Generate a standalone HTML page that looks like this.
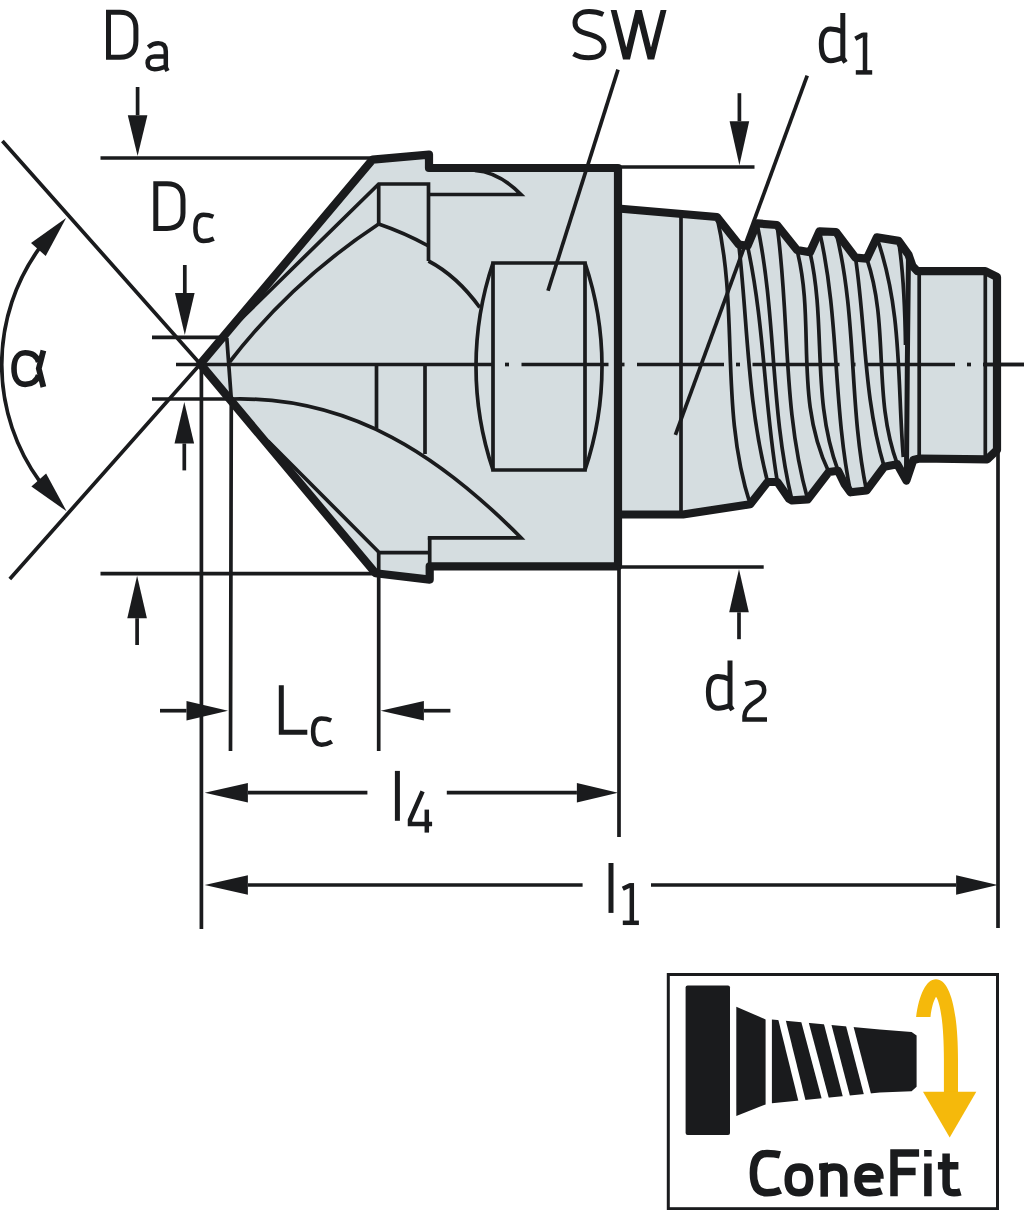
<!DOCTYPE html>
<html><head><meta charset="utf-8"><style>
html,body{margin:0;padding:0;background:#fff;width:1024px;height:1210px;overflow:hidden;font-family:"Liberation Sans",sans-serif}
svg{display:block}
</style></head><body>
<svg width="1024" height="1210" viewBox="0 0 1024 1210">
<polygon points="200.3,364 372.5,159.7 429,154.6 429,168 618,168 618,566.3 429.7,566.3 429.7,579.6 375.5,573.2" fill="#d5dde0"/>
<polygon points="618,208.5 717,217 738.8,244.5 747.5,245.8 757,223.4 777,225 797,250 810,252.3 819.5,231.3 836,232 855.5,257.7 866.8,258.7 876.8,237.4 898.6,240.9 908.5,254.7 912.5,266 917.4,271.2 985.3,271.2 997,277 997,450 987.3,459.3 919.5,458.5 913.3,460 906.4,480.5 897.3,464.2 884.2,466.8 866.5,490.5 850.6,492.3 844.4,483.8 838.1,470.8 828.8,472 807.7,499.4 792,500.4 788.9,498.6 777.4,482 767.6,482 750.2,504.3 683,514.5 618,514.5" fill="#d5dde0"/>
<path d="M240,320 L378.7,184 H428.5 V261" fill="none" stroke="#1a1b1d" stroke-width="3.7" />
<path d="M378.7,184 V224" fill="none" stroke="#1a1b1d" stroke-width="3.7" />
<path d="M378.7,224 Q405,233 428.5,246" fill="none" stroke="#1a1b1d" stroke-width="3.7" />
<path d="M229.6,362 Q292,281 378.7,224" fill="none" stroke="#1a1b1d" stroke-width="3.7" />
<path d="M428.5,261 Q457,276 479.8,307.5" fill="none" stroke="#1a1b1d" stroke-width="3.7" />
<path d="M428.5,194.5 H521 Q499,172 474.8,170.5" fill="none" stroke="#1a1b1d" stroke-width="3.7" />
<path d="M268,441 L379.4,552.7 H429.7" fill="none" stroke="#1a1b1d" stroke-width="3.7" />
<path d="M429.7,537.4 V566" fill="none" stroke="#1a1b1d" stroke-width="3.7" />
<path d="M232,399 C352,396 442,457.8 521,537.8 H427.8" fill="none" stroke="#1a1b1d" stroke-width="3.7" />
<path d="M376.5,364 V428.5" fill="none" stroke="#1a1b1d" stroke-width="3.7" />
<path d="M425,364 V454" fill="none" stroke="#1a1b1d" stroke-width="3.7" />
<path d="M226.8,338 L231.3,399 L230.5,751" fill="none" stroke="#1a1b1d" stroke-width="3.7" />
<path d="M493,263 H585 V470 H493 Z" fill="none" stroke="#1a1b1d" stroke-width="3.7" />
<path d="M493,263 A323.6,323.6 0 0 0 493,470" fill="none" stroke="#1a1b1d" stroke-width="3.7" />
<path d="M585,263 A323.6,323.6 0 0 1 585,470" fill="none" stroke="#1a1b1d" stroke-width="3.7" />
<path d="M681,212 V514.5" fill="none" stroke="#1a1b1d" stroke-width="3.7" />
<path d="M919.2,271 V459" fill="none" stroke="#1a1b1d" stroke-width="3.7" />
<path d="M985.3,271 V459" fill="none" stroke="#1a1b1d" stroke-width="3.7" />
<path d="M717,217 C739.2,312.8 719.3,408.5 750.2,504.3" fill="none" stroke="#1a1b1d" stroke-width="3.7" />
<path d="M738.8,244.5 C747.8,323.7 747.2,402.8 767.6,482" fill="none" stroke="#1a1b1d" stroke-width="3.7" />
<path d="M747.5,245.8 C764.6,324.5 764,403.3 777.4,482" fill="none" stroke="#1a1b1d" stroke-width="3.7" />
<path d="M757,223.4 C776.6,315.7 769.8,408.1 792,500.4" fill="none" stroke="#1a1b1d" stroke-width="3.7" />
<path d="M777,225 C789.9,316.5 782,407.9 807.7,499.4" fill="none" stroke="#1a1b1d" stroke-width="3.7" />
<path d="M797,250 C815.8,324 793.5,398 828.8,472" fill="none" stroke="#1a1b1d" stroke-width="3.7" />
<path d="M810,252.3 C826.6,325.1 811,398 838.1,470.8" fill="none" stroke="#1a1b1d" stroke-width="3.7" />
<path d="M819.5,231.3 C839.5,318.3 832.8,405.3 850.6,492.3" fill="none" stroke="#1a1b1d" stroke-width="3.7" />
<path d="M836,232 C857.3,318.2 848.6,404.3 866.5,490.5" fill="none" stroke="#1a1b1d" stroke-width="3.7" />
<path d="M855.5,257.7 C865.9,327.4 863.4,397.1 884.2,466.8" fill="none" stroke="#1a1b1d" stroke-width="3.7" />
<path d="M866.8,258.7 C890,327.2 872.1,395.7 897.3,464.2" fill="none" stroke="#1a1b1d" stroke-width="3.7" />
<path d="M876.8,237.4 C902.5,310.6 897.3,383.8 903.3,457" fill="none" stroke="#1a1b1d" stroke-width="3.7" />
<path d="M898.6,240.9 C904,275.6 905,310.3 905.5,345" fill="none" stroke="#1a1b1d" stroke-width="3.7" />
<path d="M908.5,254.7 C907.5,320 907,420 906.4,480" fill="none" stroke="#1a1b1d" stroke-width="5" />
<path d="M176,364.5 H493" fill="none" stroke="#1a1b1d" stroke-width="3.7" />
<path d="M505,364.5 H509" fill="none" stroke="#1a1b1d" stroke-width="3.7" />
<path d="M521.5,364.5 H608.5" fill="none" stroke="#1a1b1d" stroke-width="3.7" />
<path d="M620.5,364.5 H624.5" fill="none" stroke="#1a1b1d" stroke-width="3.7" />
<path d="M637,364.5 H724" fill="none" stroke="#1a1b1d" stroke-width="3.7" />
<path d="M736,364.5 H740" fill="none" stroke="#1a1b1d" stroke-width="3.7" />
<path d="M752.5,364.5 H839.5" fill="none" stroke="#1a1b1d" stroke-width="3.7" />
<path d="M851.5,364.5 H855.5" fill="none" stroke="#1a1b1d" stroke-width="3.7" />
<path d="M868,364.5 H955" fill="none" stroke="#1a1b1d" stroke-width="3.7" />
<path d="M967,364.5 H971" fill="none" stroke="#1a1b1d" stroke-width="3.7" />
<path d="M983.5,364.5 H1024" fill="none" stroke="#1a1b1d" stroke-width="3.7" />
<path d="M983,364.5 H1024" fill="none" stroke="#1a1b1d" stroke-width="3.7" />
<polygon points="200.3,364 372.5,159.7 429,154.6 429,168 618,168 618,566.3 429.7,566.3 429.7,579.6 375.5,573.2" fill="none" stroke="#1a1b1d" stroke-width="8.2" stroke-linejoin="round"/>
<polyline points="618,208.5 717,217 738.8,244.5 747.5,245.8 757,223.4 777,225 797,250 810,252.3 819.5,231.3 836,232 855.5,257.7 866.8,258.7 876.8,237.4 898.6,240.9 908.5,254.7 912.5,266 917.4,271.2 985.3,271.2 997,277 997,450 987.3,459.3 919.5,458.5 913.3,460 906.4,480.5 897.3,464.2 884.2,466.8 866.5,490.5 850.6,492.3 844.4,483.8 838.1,470.8 828.8,472 807.7,499.4 792,500.4 788.9,498.6 777.4,482 767.6,482 750.2,504.3 683,514.5 618,514.5" fill="none" stroke="#1a1b1d" stroke-width="8.2" stroke-linejoin="round"/>
<path d="M100.5,158 H372" fill="none" stroke="#1a1b1d" stroke-width="3.7" />
<path d="M100.5,573.6 H375" fill="none" stroke="#1a1b1d" stroke-width="3.7" />
<path d="M618,167 H754.5" fill="none" stroke="#1a1b1d" stroke-width="3.7" />
<path d="M618,567 H763.7" fill="none" stroke="#1a1b1d" stroke-width="3.7" />
<path d="M152,337.3 H221" fill="none" stroke="#1a1b1d" stroke-width="3.7" />
<path d="M152,399 H232" fill="none" stroke="#1a1b1d" stroke-width="3.7" />
<path d="M2.4,141 L200.3,364 L9.8,579" fill="none" stroke="#1a1b1d" stroke-width="3.7" />
<path d="M201.4,364 V929" fill="none" stroke="#1a1b1d" stroke-width="3.7" />
<path d="M378.7,551.5 V751" fill="none" stroke="#1a1b1d" stroke-width="3.7" />
<path d="M619,567 V837" fill="none" stroke="#1a1b1d" stroke-width="3.7" />
<path d="M998,450 V928" fill="none" stroke="#1a1b1d" stroke-width="3.7" />
<path d="M618,69.6 L548,290.7" fill="none" stroke="#1a1b1d" stroke-width="3.7" />
<path d="M807.2,75.6 L675.4,434.9" fill="none" stroke="#1a1b1d" stroke-width="3.7" />
<path d="M137.6,87 V115.2" fill="none" stroke="#1a1b1d" stroke-width="3.7" />
<path d="M137.6,156 L127.8,115.2 L147.4,115.2 Z" fill="#1a1b1d"/>
<path d="M137.1,645 V618.2" fill="none" stroke="#1a1b1d" stroke-width="3.7" />
<path d="M137.1,575.8 L127.3,618.2 L146.9,618.2 Z" fill="#1a1b1d"/>
<path d="M184.8,265 V293" fill="none" stroke="#1a1b1d" stroke-width="3.7" />
<path d="M184.8,335 L175,293 L194.6,293 Z" fill="#1a1b1d"/>
<path d="M184.3,470.4 V443.5" fill="none" stroke="#1a1b1d" stroke-width="3.7" />
<path d="M184.3,402 L174.5,443.5 L194.1,443.5 Z" fill="#1a1b1d"/>
<path d="M739.4,93.2 V121.3" fill="none" stroke="#1a1b1d" stroke-width="3.7" />
<path d="M739.4,165.3 L729.6,121.3 L749.2,121.3 Z" fill="#1a1b1d"/>
<path d="M739,639.2 V612.3" fill="none" stroke="#1a1b1d" stroke-width="3.7" />
<path d="M739,569.3 L729.2,612.3 L748.8,612.3 Z" fill="#1a1b1d"/>
<path d="M160,710.7 H186.5" fill="none" stroke="#1a1b1d" stroke-width="3.7" />
<path d="M228,710.7 L186.5,700.9 L186.5,720.5 Z" fill="#1a1b1d"/>
<path d="M450.4,710.7 H423.9" fill="none" stroke="#1a1b1d" stroke-width="3.7" />
<path d="M380.7,710.7 L423.9,700.9 L423.9,720.5 Z" fill="#1a1b1d"/>
<path d="M367.4,792.7 H247.9" fill="none" stroke="#1a1b1d" stroke-width="3.7" />
<path d="M204.7,792.7 L247.9,782.9 L247.9,802.5 Z" fill="#1a1b1d"/>
<path d="M446.8,792.7 H576.9" fill="none" stroke="#1a1b1d" stroke-width="3.7" />
<path d="M618,792.7 L576.9,782.9 L576.9,802.5 Z" fill="#1a1b1d"/>
<path d="M582.6,885 H247.9" fill="none" stroke="#1a1b1d" stroke-width="3.7" />
<path d="M204.7,885 L247.9,875.2 L247.9,894.8 Z" fill="#1a1b1d"/>
<path d="M651,885 H956.1" fill="none" stroke="#1a1b1d" stroke-width="3.7" />
<path d="M997.8,885 L956.1,875.2 L956.1,894.8 Z" fill="#1a1b1d"/>
<path d="M66.1,218.1 L45.7,256 L31,243 Z" fill="#1a1b1d"/>
<path d="M66.6,511.3 L31.4,486.5 L46.1,473.5 Z" fill="#1a1b1d"/>
<path d="M39.6,247.9 A198.6,198.6 0 0 0 39.9,481.6" fill="none" stroke="#1a1b1d" stroke-width="3.7" />
<path d="M108.5,12.3 H120 C131,12.3 135.9,19 135.9,28.5 V41 C135.9,51 131,57.3 120,57.3 H108.5 Z" fill="none" stroke="#1a1b1d" stroke-width="5.0" stroke-linecap="butt" stroke-linejoin="miter"/>
<path d="M148.3,47.2 C151.5,44.6 155,43.3 158.3,43.3 C163.3,43.3 165.8,46 165.8,51.5 V67.5 L167.5,71" fill="none" stroke="#1a1b1d" stroke-width="4.5" stroke-linecap="butt" stroke-linejoin="miter"/>
<path d="M165.8,56.4 H154.5 C149.8,56.4 147.6,59.3 147.6,63 C147.6,67 150.5,69.2 154.5,69.2 C158.5,69.2 162.5,67.8 165.8,66.5" fill="none" stroke="#1a1b1d" stroke-width="4.5" stroke-linecap="butt" stroke-linejoin="miter"/>
<path d="M603.3,14.5 C598.5,12.3 593.5,11.5 589,11.5 C581,11.5 575,15.5 575,22.8 C575,29.5 580.5,32 588,34 C598,36.8 604,40 604,47 C604,54.5 597.5,57.7 588.5,57.7 C582.5,57.7 577.5,56.2 573.5,53.8" fill="none" stroke="#1a1b1d" stroke-width="5.0" stroke-linecap="butt" stroke-linejoin="miter"/>
<path d="M610.7,10 L616.6,10 L626.3,47.4 L635.4,10 L641.8,10 L651,47.4 L660.6,10 L666.5,10 L654.2,59.6 L647.7,59.6 L638.7,23.3 L630,59.6 L623,59.6 Z" fill="#1a1b1d"/>
<path d="M842.8,12.9 V58 L845.5,62.3" fill="none" stroke="#1a1b1d" stroke-width="5.0" stroke-linecap="butt" stroke-linejoin="miter"/>
<path d="M842.8,31.8 C838.5,29.8 834.5,28.9 830.5,28.9 C824.5,28.9 821.3,34.5 821.3,44 C821.3,54.5 824.5,60.7 830.8,60.7 C835,60.7 838.8,59.2 842.8,57.5" fill="none" stroke="#1a1b1d" stroke-width="5.0" stroke-linecap="butt" stroke-linejoin="miter"/>
<path d="M865,32.7 V72.3" fill="none" stroke="#1a1b1d" stroke-width="4.5" stroke-linecap="butt" stroke-linejoin="miter"/>
<path d="M855.3,38.7 L862.3,35 H867.2" fill="none" stroke="#1a1b1d" stroke-width="4.5" stroke-linecap="butt" stroke-linejoin="miter"/>
<path d="M855.8,72.4 H872.2" fill="none" stroke="#1a1b1d" stroke-width="4.5" stroke-linecap="butt" stroke-linejoin="miter"/>
<path d="M155.8,183.8 H167 C178,183.8 183,190 183,199.5 V213 C183,222.5 178,228.4 167,228.4 H155.8 Z" fill="none" stroke="#1a1b1d" stroke-width="5.0" stroke-linecap="butt" stroke-linejoin="miter"/>
<path d="M213.4,216.8 C210,215.3 206.7,214.8 203.5,214.8 C197.7,214.8 195.4,219.5 195.4,228.1 C195.4,236.7 197.7,241 203.5,241 C207,241 210.5,240.1 213.8,238.6" fill="none" stroke="#1a1b1d" stroke-width="4.5" stroke-linecap="butt" stroke-linejoin="miter"/>
<path d="M38.6,362 C36.6,355.5 32.5,352.7 25.2,352.7 C17.5,352.7 14,360 14,368.6 C14,377.5 17.5,384.4 25.2,384.4 C32.5,384.4 36.6,381.5 38.6,375.2" fill="none" stroke="#1a1b1d" stroke-width="5.6" stroke-linecap="butt" stroke-linejoin="miter"/>
<path d="M43.4,350.5 L38.8,368.6 L43.4,387" fill="none" stroke="#1a1b1d" stroke-width="5.8" stroke-linecap="butt" stroke-linejoin="miter"/>
<path d="M730,660.6 V706 L732.5,710" fill="none" stroke="#1a1b1d" stroke-width="5.0" stroke-linecap="butt" stroke-linejoin="miter"/>
<path d="M730,679.4 C726,677.4 722,676.4 718,676.4 C711.5,676.4 708.4,682 708.4,692 C708.4,702 711.5,708.2 718.3,708.2 C722.3,708.2 726,707 730,705.4" fill="none" stroke="#1a1b1d" stroke-width="5.0" stroke-linecap="butt" stroke-linejoin="miter"/>
<path d="M745.3,684.2 C749,682.8 752.5,682.2 756,682.2 C761.5,682.2 764.2,685.3 764.2,690 C764.2,695.5 761.3,698.2 756.5,701 C748.5,705.8 744.5,710 744.5,716 V719.6 H767" fill="none" stroke="#1a1b1d" stroke-width="4.5" stroke-linecap="butt" stroke-linejoin="miter"/>
<path d="M281.3,685.2 V732.2 H307.3" fill="none" stroke="#1a1b1d" stroke-width="5.0" stroke-linecap="butt" stroke-linejoin="miter"/>
<path d="M331.2,720.5 C328,719 324.7,718.4 321.5,718.4 C315.6,718.4 313.1,723.5 313.1,731.6 C313.1,740 315.6,744.7 321.6,744.7 C325,744.7 328.5,743.6 331.9,741.6" fill="none" stroke="#1a1b1d" stroke-width="4.5" stroke-linecap="butt" stroke-linejoin="miter"/>
<path d="M397.4,770.9 V820.8" fill="none" stroke="#1a1b1d" stroke-width="5.0" stroke-linecap="butt" stroke-linejoin="miter"/>
<path d="M422.6,791.3 L410,820 V823.9 H432.1" fill="none" stroke="#1a1b1d" stroke-width="4.5" stroke-linecap="butt" stroke-linejoin="miter"/>
<path d="M426.8,809.6 V832.6" fill="none" stroke="#1a1b1d" stroke-width="4.5" stroke-linecap="butt" stroke-linejoin="miter"/>
<path d="M611,863 V912.9" fill="none" stroke="#1a1b1d" stroke-width="5.0" stroke-linecap="butt" stroke-linejoin="miter"/>
<path d="M631.8,883.2 V922.8" fill="none" stroke="#1a1b1d" stroke-width="4.5" stroke-linecap="butt" stroke-linejoin="miter"/>
<path d="M622.8,888.7 L629.6,885.4 H634" fill="none" stroke="#1a1b1d" stroke-width="4.5" stroke-linecap="butt" stroke-linejoin="miter"/>
<path d="M622.8,922.8 H638.9" fill="none" stroke="#1a1b1d" stroke-width="4.5" stroke-linecap="butt" stroke-linejoin="miter"/>
<path d="M780,1154.8 C776,1153.7 771,1153.4 767,1153.4 C757.5,1153.4 753.4,1160.5 753.4,1173 C753.4,1185.5 757.5,1192.8 767,1192.8 C771.5,1192.8 776.5,1192 780.5,1190.2" fill="none" stroke="#1a1b1d" stroke-width="7.5" stroke-linecap="butt" stroke-linejoin="miter"/>
<path d="M799,1166.9 C792,1166.9 788.2,1170.5 788.2,1179.8 C788.2,1189 792,1192.8 799,1192.8 C806,1192.8 809.6,1189 809.6,1179.8 C809.6,1170.5 806,1166.9 799,1166.9 Z" fill="none" stroke="#1a1b1d" stroke-width="7.5" stroke-linecap="butt" stroke-linejoin="miter"/>
<path d="M824.2,1165 V1196.7" fill="none" stroke="#1a1b1d" stroke-width="7.5" stroke-linecap="butt" stroke-linejoin="miter"/>
<path d="M819.1,1163.6 L828,1162.6 L828,1170 L819.1,1170 Z" fill="#1a1b1d"/>
<path d="M824.2,1171 C827.5,1168.2 830.5,1167 834,1167 C840.5,1167 843.8,1170 843.8,1177 V1196.7" fill="none" stroke="#1a1b1d" stroke-width="7.5" stroke-linecap="butt" stroke-linejoin="miter"/>
<path d="M880.5,1178.7 H858 C858,1170 862,1166.8 869,1166.8 C876,1166.8 880,1170 880,1178.7 M858,1178.7 C858,1188.5 862.5,1192.8 869.5,1192.8 C874,1192.8 878,1192.2 881.5,1190.8" fill="none" stroke="#1a1b1d" stroke-width="7.5" stroke-linecap="butt" stroke-linejoin="miter"/>
<path d="M894,1196.3 V1152.9 H919.1 M894,1171.6 H915.6" fill="none" stroke="#1a1b1d" stroke-width="7.5" stroke-linecap="butt" stroke-linejoin="miter"/>
<path d="M927.9,1150 V1156.4 M927.9,1163.4 V1196.3" fill="none" stroke="#1a1b1d" stroke-width="7.5" stroke-linecap="butt" stroke-linejoin="miter"/>
<path d="M946.1,1153.5 V1184 C946.1,1190 948.5,1192.8 954,1192.8 C956.5,1192.8 958.5,1192.4 960.5,1191.8 M937.9,1165.8 H958.4" fill="none" stroke="#1a1b1d" stroke-width="7.5" stroke-linecap="butt" stroke-linejoin="miter"/>
<rect x="668.3" y="974.5" width="329.2" height="234.2" fill="none" stroke="#1a1b1d" stroke-width="3"/>
<rect x="685.6" y="985.6" width="44.4" height="149.4" rx="2" fill="#1a1b1d"/>
<path d="M736.3,1006.7 L765.6,1019.4 L765.6,1104.4 L736.3,1115.9 Z" fill="#1a1b1d"/>
<path d="M771.9,1019.4 L879.8,1029.5 L911.6,1032 L916.6,1035.5 L916.6,1086.7 L911.6,1091.2 L879.8,1092.5 L771.9,1103.2 Z" fill="#1a1b1d"/>
<path d="M775.9,1010 L783.2,1010 L807.9,1110 L800.6,1110 Z" fill="#fff"/>
<path d="M798.1,1010 L805.4,1010 L832,1110 L824.7,1110 Z" fill="#fff"/>
<path d="M820.3,1010 L827.6,1010 L853.6,1110 L846.3,1110 Z" fill="#fff"/>
<path d="M841.9,1010 L849.2,1010 L875.2,1110 L867.9,1110 Z" fill="#fff"/>
<path d="M916.1,1016.9 C919,995 926,979.2 936,979.2 C950,979.2 958,1010 958,1060 V1092 H943.9 V1060 C943.9,1025 940.5,1003 936,996.8 C933.5,1001 931.5,1008 930.5,1016.9 Z" fill="#f5b90b"/>
<path d="M923,1091.7 L976.3,1091.7 L949.7,1137.4 Z" fill="#f5b90b"/>
</svg>
</body></html>
